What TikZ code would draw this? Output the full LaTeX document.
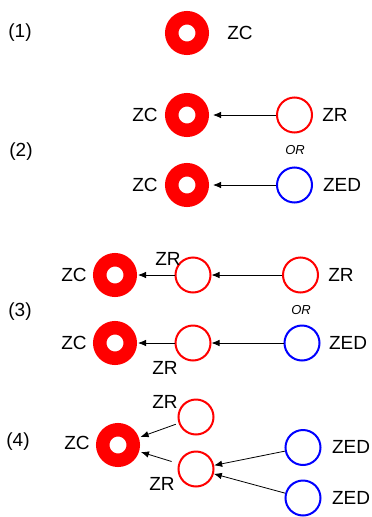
\documentclass[tikz,border=0pt]{standalone}
\usepackage{fontspec}
\setmainfont{Liberation Sans}
\usepackage{tikz}
\usetikzlibrary{arrows.meta, positioning}
\tikzstyle{core} = [circle, draw=red, fill=white, line width=13.5pt, minimum size=30.5pt, inner sep=0]
\tikzstyle{ring} = [circle, draw=red, line width=2pt, minimum size=35pt, inner sep=0]
\tikzstyle{edring} = [ring, draw=blue]
\tikzstyle{link} = [-{Latex[length=8pt, width=6.5pt]}, line width=0.8pt]
\tikzstyle{orlabel} = [font=\fontsize{13}{15}\selectfont\itshape]

\begin{document}
\begin{tikzpicture}[x=1pt, y=-1pt, every node/.style={font=\fontsize{19}{22}\selectfont}]
				\useasboundingbox (0, 0) rectangle (372, 517);

				% (1) a lone core
				\node (Step1) at (20, 33) {(1)};
				\node (C1) [core] at (187, 33) {};
				\node (C1Name) at (240, 33) {ZC};

				% (2) one neighbour joins the core
				\node (Step2) at (21, 152) {(2)};
				\node (C2a) [core] at (187, 115) {};
				\node (C2aName) at (145, 115) {ZC};
				\node (R2a) [ring] at (294.5, 115) {};
				\node (R2aName) at (335, 115) {ZR};
				\draw [link, shorten >=4pt] (R2a) -- (C2a);

				\node (Or2) [orlabel] at (295, 150) {OR};

				\node (C2b) [core] at (187, 185) {};
				\node (C2bName) at (145, 185) {ZC};
				\node (E2b) [edring] at (294.5, 185) {};
				\node (E2bName) at (342, 185) {ZED};
				\draw [link, shorten >=4pt] (E2b) -- (C2b);

				% (3) a chain of two
				\node (Step3) at (20, 312) {(3)};
				\node (C3a) [core] at (115, 275) {};
				\node (C3aName) at (74, 275) {ZC};
				\node (M3a) [ring] at (193, 275) {};
				\node (M3aName) at (168, 259) {ZR};
				\node (R3a) [ring] at (300.5, 275) {};
				\node (R3aName) at (341, 275) {ZR};
				\draw [link, shorten >=1pt] (M3a) -- (C3a);
				\draw [link] (R3a) -- (M3a);

				\node (Or3) [orlabel] at (301, 310) {OR};

				\node (C3b) [core] at (115, 343) {};
				\node (C3bName) at (74, 343) {ZC};
				\node (M3b) [ring] at (193, 343) {};
				\node (M3bName) at (165, 368) {ZR};
				\node (E3b) [edring] at (302, 343) {};
				\node (E3bName) at (348, 343) {ZED};
				\draw [link, shorten >=1pt] (M3b) -- (C3b);
				\draw [link] (E3b) -- (M3b);

				% (4) two branches
				\node (Step4) at (18, 442) {(4)};
				\node (C4) [core] at (118, 445) {};
				\node (C4Name) at (77, 443) {ZC};
				\node (U4) [ring] at (196, 417) {};
				\node (U4Name) at (165, 402) {ZR};
				\node (L4) [ring] at (196, 469) {};
				\node (L4Name) at (162, 484) {ZR};
				\draw [link, shorten <=3pt, shorten >=2pt] (U4) -- (C4);
				\draw [link, shorten <=7pt, shorten >=2pt] (L4) -- (C4);

				\node (E4a) [edring] at (303, 447.5) {};
				\node (E4aName) at (351, 447) {ZED};
				\node (E4b) [edring] at (303, 498) {};
				\node (E4bName) at (351, 498) {ZED};
				\draw [link] (E4a) -- (L4);
				\draw [link] (E4b) -- (L4);
			\end{tikzpicture}
\end{document}
